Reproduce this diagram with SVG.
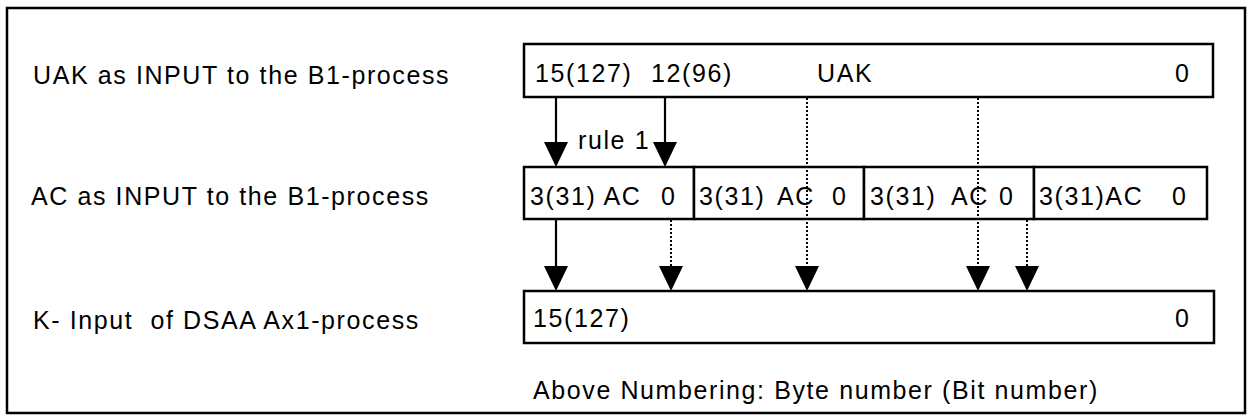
<svg xmlns="http://www.w3.org/2000/svg" width="1250" height="417" viewBox="0 0 1250 417">
<style>
  text { font-family: "Liberation Sans", Arial, sans-serif; font-size: 25px; letter-spacing: 1.6px; fill: #000; }
  .box { fill: #fff; stroke: #000; stroke-width: 2.5; }
  .solid { stroke: #000; stroke-width: 2.2; fill: none; }
  .dot { stroke: #000; stroke-width: 2; stroke-dasharray: 2 2; fill: none; }
</style>
<defs>
  <marker id="head" viewBox="0 -13 26 26" refX="22" refY="0" markerWidth="26" markerHeight="26" markerUnits="userSpaceOnUse" orient="auto">
    <path d="M0,-12 L25,0 L0,12 Z" fill="#000"/>
  </marker>
</defs>
<rect x="0" y="0" width="1250" height="417" fill="#fff"/>
<rect id="frame" x="7" y="8" width="1238" height="405" fill="none" stroke="#000" stroke-width="2.5"/>

<g id="labels">
  <text x="33" y="84">UAK as INPUT to the B1-process</text>
  <text x="31" y="205">AC as INPUT to the B1-process</text>
  <text x="33" y="329" xml:space="preserve">K- Input  of DSAA Ax1-process</text>
</g>

<g id="uak">
  <rect class="box" x="524" y="44" width="689" height="53"/>
  <text y="82"><tspan x="535">15(127)</tspan><tspan x="651">12(96)</tspan><tspan x="817">UAK</tspan><tspan x="1175">0</tspan></text>
</g>

<g id="ac1">
  <rect class="box" x="524" y="167" width="170" height="52"/>
  <text y="205"><tspan x="530">3(31) AC</tspan><tspan x="661">0</tspan></text>
</g>
<g id="ac2">
  <rect class="box" x="694" y="167" width="170" height="52"/>
  <text y="205"><tspan x="699">3(31)</tspan><tspan x="777">AC</tspan><tspan x="832">0</tspan></text>
</g>
<g id="ac3">
  <rect class="box" x="864" y="167" width="170" height="52"/>
  <text y="205"><tspan x="870">3(31)</tspan><tspan x="951">AC</tspan><tspan x="999">0</tspan></text>
</g>
<g id="ac4">
  <rect class="box" x="1034" y="167" width="173" height="52"/>
  <text y="205"><tspan x="1039">3(31)AC</tspan><tspan x="1172">0</tspan></text>
</g>

<g id="kinput">
  <rect class="box" x="524" y="291" width="690" height="52"/>
  <text y="327"><tspan x="533">15(127)</tspan><tspan x="1175">0</tspan></text>
</g>

<g id="connectors">
  <line class="solid" x1="556" y1="97" x2="556" y2="164" marker-end="url(#head)"/>
  <line class="solid" x1="665" y1="97" x2="665" y2="164" marker-end="url(#head)"/>
  <line class="dot" x1="807" y1="98" x2="807" y2="288" marker-end="url(#head)"/>
  <line class="dot" x1="978" y1="98" x2="978" y2="288" marker-end="url(#head)"/>
  <line class="solid" x1="556" y1="219" x2="556" y2="288" marker-end="url(#head)"/>
  <line class="dot" x1="671" y1="220" x2="671" y2="288" marker-end="url(#head)"/>
  <line class="dot" x1="1027" y1="220" x2="1027" y2="288" marker-end="url(#head)"/>
  <text x="578" y="149">rule 1</text>
</g>

<text id="note" x="533" y="399">Above Numbering: Byte number (Bit number)</text>
</svg>
